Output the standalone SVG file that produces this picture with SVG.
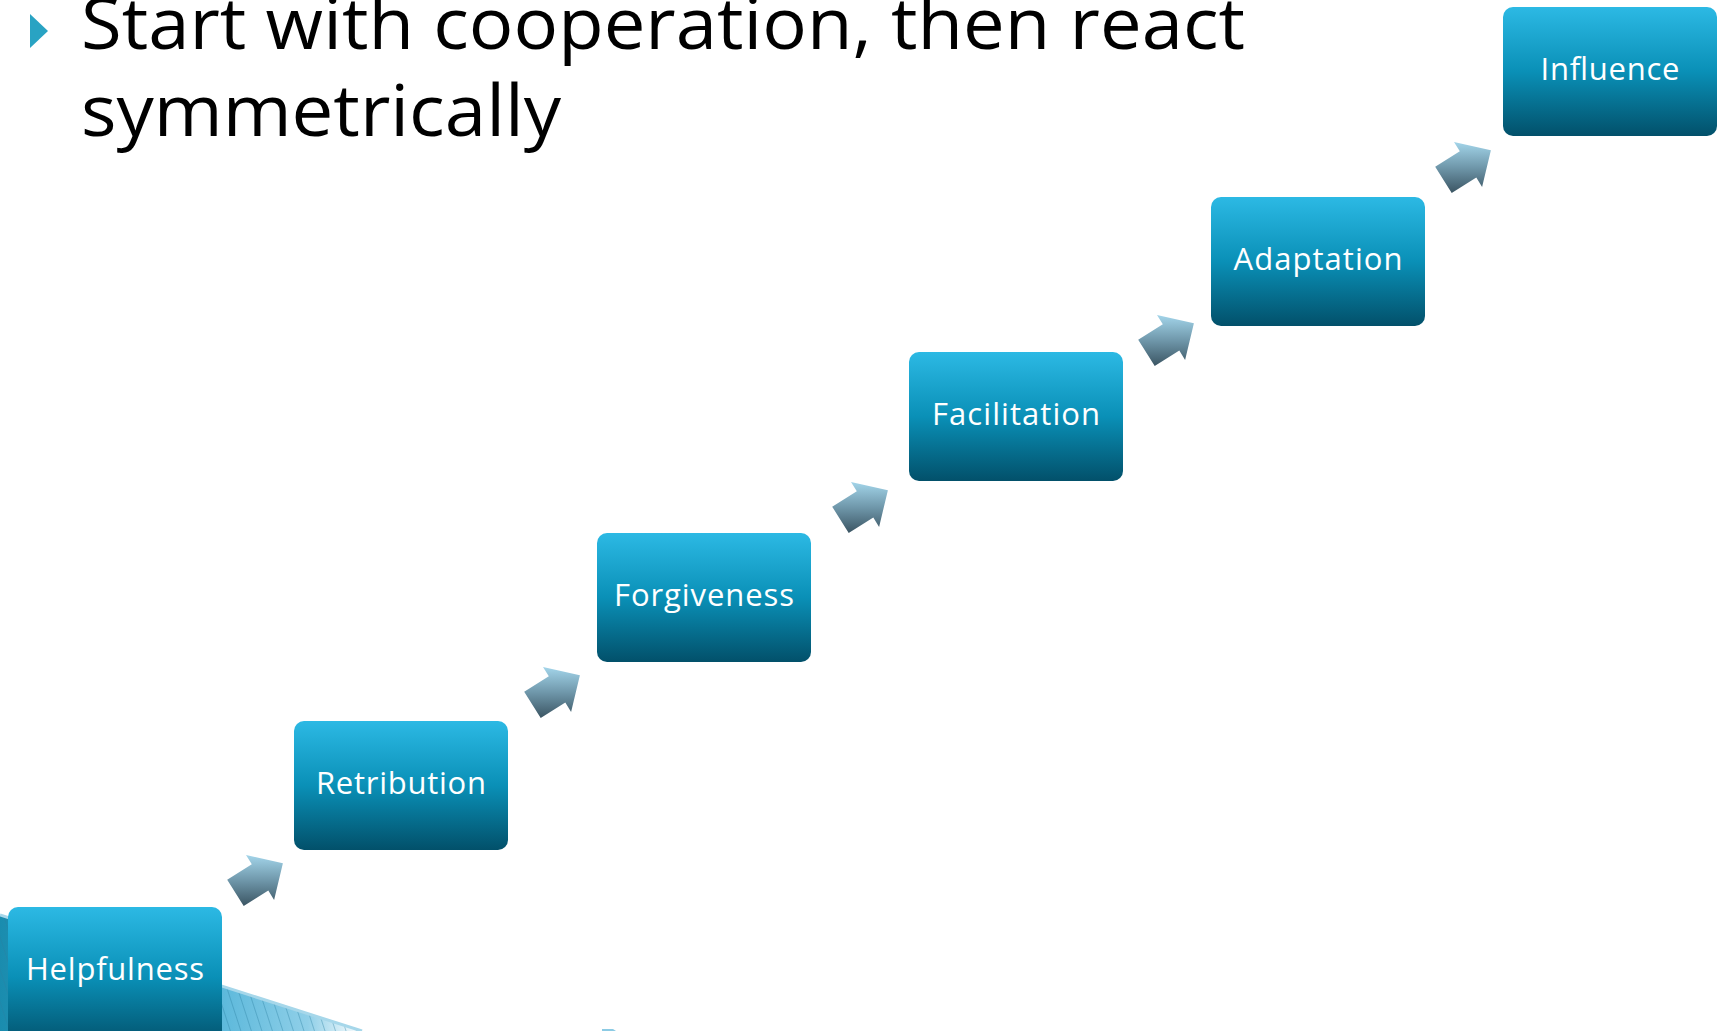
<svg xmlns="http://www.w3.org/2000/svg" width="1725" height="1031" viewBox="0 0 1725 1031">
  <defs>
    <linearGradient id="boxGrad" x1="0" y1="0" x2="0" y2="1">
      <stop offset="0" stop-color="#2cb9e4"/>
      <stop offset="0.5" stop-color="#0a90b7"/>
      <stop offset="1" stop-color="#02506a"/>
    </linearGradient>
    <linearGradient id="arrowGrad" x1="0" y1="0" x2="0" y2="1">
      <stop offset="0" stop-color="#a3d5ea"/>
      <stop offset="0.5" stop-color="#6f97aa"/>
      <stop offset="1" stop-color="#3b5563"/>
    </linearGradient>
    <linearGradient id="bandGrad" x1="0" y1="0" x2="1" y2="0">
      <stop offset="0" stop-color="#1a8cae"/>
      <stop offset="0.55" stop-color="#4fb3d8"/>
      <stop offset="0.85" stop-color="#8fcfe8"/>
      <stop offset="1" stop-color="#ffffff"/>
    </linearGradient>
    <pattern id="stripes" width="10" height="10" patternUnits="userSpaceOnUse" patternTransform="rotate(-18)">
      <line x1="0" y1="0" x2="0" y2="10" stroke="#2a7fa0" stroke-width="1.4" stroke-opacity="0.55"/>
    </pattern>
    <polygon id="arrowShape" points="0,0 36.9,8.2 28.1,44.9 22.3,35.6 -2.3,51 -18.8,24.7 5.8,9.3"/>
    <style>
      .box { fill: url(#boxGrad); }
      .lbl { font-family: "Open Sans", "Noto Sans", "DejaVu Sans", sans-serif; font-size: 31px; fill: #ffffff; text-anchor: middle; }
      .title { font-family: "Open Sans", "Noto Sans", "DejaVu Sans", sans-serif; font-size: 72px; fill: #000000; }
      .arrow { fill: url(#arrowGrad); }
    </style>
  </defs>

  <rect width="1725" height="1031" fill="#ffffff"/>

  <g id="background-band">
    <polygon points="0,915 362,1031 0,1031" fill="url(#bandGrad)"/>
    <polygon points="0,915 362,1031 0,1031" fill="url(#stripes)"/>
    <line x1="0" y1="915" x2="362" y2="1031" stroke="#a6d7ea" stroke-width="3"/>
    <polygon points="602,1029 613,1029 616,1031 602,1031" fill="#8ccbe4"/>
  </g>

  <g id="title">
    <polygon points="30,14 48,31 30,48" fill="#29a3c3"/>
    <text class="title" x="81" y="49" textLength="1164" lengthAdjust="spacingAndGlyphs">Start with cooperation, then react</text>
    <text class="title" x="81" y="136" textLength="480" lengthAdjust="spacingAndGlyphs">symmetrically</text>
  </g>

  <g id="connectors">
    <use href="#arrowShape" class="arrow" x="246" y="855"/>
    <use href="#arrowShape" class="arrow" x="543" y="667"/>
    <use href="#arrowShape" class="arrow" x="851" y="482"/>
    <use href="#arrowShape" class="arrow" x="1157" y="315"/>
    <use href="#arrowShape" class="arrow" x="1454" y="142"/>
  </g>

  <g id="node-helpfulness">
    <rect class="box" x="8" y="907" width="214" height="140" rx="10"/>
    <text class="lbl" x="115" y="980" textLength="178" lengthAdjust="spacing">Helpfulness</text>
  </g>
  <g id="node-retribution">
    <rect class="box" x="294" y="721" width="214" height="129" rx="10"/>
    <text class="lbl" x="401" y="794" textLength="170" lengthAdjust="spacing">Retribution</text>
  </g>
  <g id="node-forgiveness">
    <rect class="box" x="597" y="533" width="214" height="129" rx="10"/>
    <text class="lbl" x="704" y="606" textLength="180" lengthAdjust="spacing">Forgiveness</text>
  </g>
  <g id="node-facilitation">
    <rect class="box" x="909" y="352" width="214" height="129" rx="10"/>
    <text class="lbl" x="1016" y="425" textLength="168" lengthAdjust="spacing">Facilitation</text>
  </g>
  <g id="node-adaptation">
    <rect class="box" x="1211" y="197" width="214" height="129" rx="10"/>
    <text class="lbl" x="1318" y="270" textLength="169" lengthAdjust="spacing">Adaptation</text>
  </g>
  <g id="node-influence">
    <rect class="box" x="1503" y="7" width="214" height="129" rx="10"/>
    <text class="lbl" x="1610" y="80" textLength="139" lengthAdjust="spacing">Influence</text>
  </g>
</svg>
